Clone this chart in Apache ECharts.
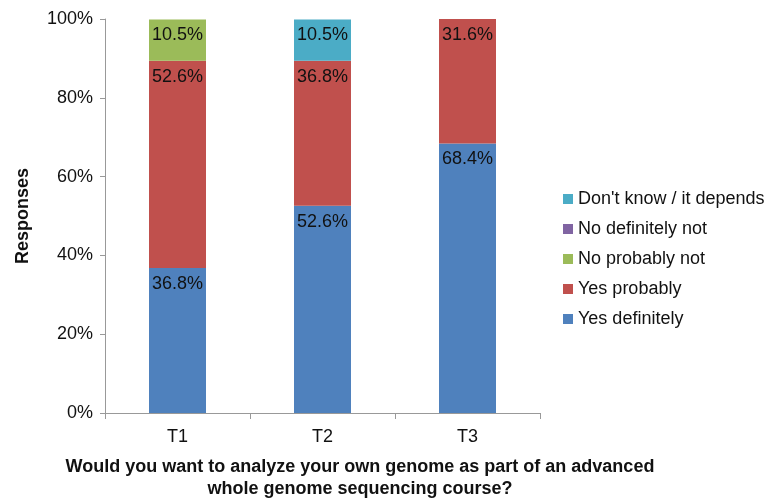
<!DOCTYPE html>
<html><head><meta charset="utf-8">
<script src="https://cdn.jsdelivr.net/npm/echarts@6/dist/echarts.min.js"></script>
<style>html,body{margin:0;padding:0;background:#fff}#c{width:772px;height:502px}</style>
</head><body><div id="c"></div>
<script>
const categories = ['T1', 'T2', 'T3'];
const yesDefinitely = [36.8, 52.6, 68.4];
const yesProbably = [52.6, 36.8, 31.6];
const noProbablyNot = [10.5, 0, 0];
const noDefinitelyNot = [0, 0, 0];
const dontKnow = [0, 10.5, 0];
const yTicks = [0, 20, 40, 60, 80, 100];

const font = 'Liberation Sans, Arial, sans-serif';
function mk(name, data, color) {
  return {
    name, type: 'bar', stack: 'a', data, barWidth: 57,
    itemStyle: { color },
    label: {
      show: true, position: 'insideTop', distance: 7,
      color: '#111', fontSize: 18, fontFamily: font,
      formatter: p => p.value > 0 ? p.value.toFixed(1) + '%' : ''
    }
  };
}
const chart = echarts.init(document.getElementById('c'));
chart.setOption({
  animation: false,
  textStyle: { fontFamily: font },
  grid: { left: 105, right: 232, top: 19, bottom: 89 },
  legend: {
    orient: 'vertical', left: 558, top: 185, itemWidth: 10, itemHeight: 10, itemGap: 12,
    textStyle: { fontSize: 18, color: '#111', fontFamily: font },
    icon: 'rect',
    data: ["Don't know / it depends", 'No definitely not', 'No probably not', 'Yes probably', 'Yes definitely']
  },
  xAxis: {
    type: 'category', data: categories,
    axisLine: { lineStyle: { color: '#999' } },
    axisTick: { show: true, length: 6, lineStyle: { color: '#999' } },
    axisLabel: { fontSize: 18, color: '#111', margin: 15 }
  },
  yAxis: {
    type: 'value', min: 0, max: 100, interval: 20,
    name: 'Responses', nameLocation: 'middle', nameGap: 73, nameRotate: 90,
    nameTextStyle: { fontSize: 18, fontWeight: 'bold', color: '#111' },
    axisLine: { show: true, lineStyle: { color: '#999' } },
    axisTick: { show: true, length: 5, lineStyle: { color: '#999' } },
    splitLine: { show: false },
    axisLabel: { fontSize: 18, color: '#111', margin: 12,
      formatter: v => yTicks.includes(v) ? v + '%' : '' }
  },
  graphic: [{
    type: 'text', x: 360, y: 456,
    style: {
      text: 'Would you want to analyze your own genome as part of an advanced\nwhole genome sequencing course?',
      font: 'bold 18px ' + font, fill: '#111', textAlign: 'center', lineHeight: 22
    }
  }],
  series: [
    mk('Yes definitely', yesDefinitely, '#4F81BD'),
    mk('Yes probably', yesProbably, '#C0504D'),
    mk('No probably not', noProbablyNot, '#9BBB59'),
    mk('No definitely not', noDefinitelyNot, '#8064A2'),
    mk("Don't know / it depends", dontKnow, '#4BACC6')
  ]
});
</script></body></html>
